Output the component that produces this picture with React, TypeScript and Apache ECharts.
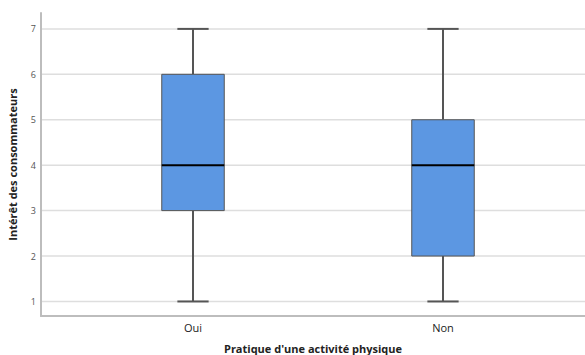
import React, { useEffect, useRef } from "react";
import * as echarts from "echarts";

const categories = ["Oui", "Non"];
const whiskerLow = [1, 1];
const q1 = [3, 2];
const medians = [4, 4];
const q3 = [6, 5];
const whiskerHigh = [7, 7];
const yTicks = [1, 2, 3, 4, 5, 6, 7];

const FONT = "'Open Sans', sans-serif";
const Y_MIN = 0.68;
const Y_MAX = 7.35;
const X_MIN = -0.608;
const X_MAX = 1.568;

export default function App() {
  const ref = useRef<HTMLDivElement>(null);
  useEffect(() => {
    document.body.style.margin = "0";
    const chart = echarts.init(ref.current!, null, { renderer: "svg" });
    const boxData = categories.map((_, i) => [i, whiskerLow[i], q1[i], medians[i], q3[i], whiskerHigh[i]]);
    chart.setOption({
      animation: false,
      backgroundColor: "#ffffff",
      textStyle: { fontFamily: FONT },
      grid: { left: 41, right: 0, top: 13, bottom: 39, containLabel: false, outerBoundsMode: "none" },
      xAxis: {
        type: "value",
        min: X_MIN,
        max: X_MAX,
        axisLine: { show: true, onZero: false, lineStyle: { color: "#bdbdbd", width: 2 } },
        axisTick: { show: false },
        splitLine: { show: false },
        axisLabel: {
          customValues: categories.map((_, i) => i),
          formatter: (v: number) => categories[Math.round(v)] ?? "",
          color: "#222",
          fontSize: 11,
          margin: 6,
          fontFamily: FONT,
        },
        name: "Pratique d'une activité physique",
        nameLocation: "middle",
        nameGap: 27,
        nameTextStyle: { color: "#222", fontSize: 11, fontWeight: "bold", fontFamily: FONT },
      },
      yAxis: {
        type: "value",
        min: Y_MIN,
        max: Y_MAX,
        axisLine: { show: true, onZero: false, lineStyle: { color: "#bdbdbd", width: 2 } },
        axisTick: { show: false },
        splitLine: { show: false },
        axisLabel: { customValues: yTicks, color: "#555", fontSize: 9, margin: 5, fontFamily: FONT },
        name: "Intérêt des consommateurs",
        nameLocation: "middle",
        nameGap: 23,
        nameTextStyle: { color: "#222", fontSize: 11, fontWeight: "bold", fontFamily: FONT },
      },
      series: [
        {
          type: "custom",
          silent: true,
          z: 1,
          data: yTicks.map((v) => [v]),
          renderItem: (params: any, api: any) => {
            const v = api.value(0);
            const a = api.coord([X_MIN, v]);
            const b = api.coord([X_MAX, v]);
            return {
              type: "line",
              shape: { x1: a[0] + 1, y1: a[1], x2: b[0], y2: b[1] },
              style: { stroke: "#dedede", lineWidth: 1.5 },
            };
          },
        },
        {
          type: "custom",
          z: 5,
          data: boxData,
          renderItem: (params: any, api: any) => {
            const x = api.value(0);
            const pLow = api.coord([x, api.value(1)]);
            const pQ1 = api.coord([x, api.value(2)]);
            const pMed = api.coord([x, api.value(3)]);
            const pQ3 = api.coord([x, api.value(4)]);
            const pHigh = api.coord([x, api.value(5)]);
            const unit = api.size([1, 0])[0];
            const bw = unit * 0.25;
            const cap = bw / 2;
            const cx = pMed[0];
            const wStyle = { stroke: "#555555", lineWidth: 2 };
            return {
              type: "group",
              children: [
                { type: "line", shape: { x1: cx, y1: pLow[1], x2: cx, y2: pQ1[1] }, style: wStyle },
                { type: "line", shape: { x1: cx, y1: pQ3[1], x2: cx, y2: pHigh[1] }, style: wStyle },
                { type: "line", shape: { x1: cx - cap / 2, y1: pLow[1], x2: cx + cap / 2, y2: pLow[1] }, style: wStyle },
                { type: "line", shape: { x1: cx - cap / 2, y1: pHigh[1], x2: cx + cap / 2, y2: pHigh[1] }, style: wStyle },
                {
                  type: "rect",
                  shape: { x: cx - bw / 2, y: pQ3[1], width: bw, height: pQ1[1] - pQ3[1] },
                  style: { fill: "#5c97e2", stroke: "#555555", lineWidth: 1 },
                },
                { type: "line", shape: { x1: cx - bw / 2, y1: pMed[1], x2: cx + bw / 2, y2: pMed[1] }, style: { stroke: "#000", lineWidth: 2 } },
              ],
            };
          },
        },
      ],
    });
    return () => chart.dispose();
  }, []);
  return <div ref={ref} style={{ width: 585, height: 355 }} />;
}
